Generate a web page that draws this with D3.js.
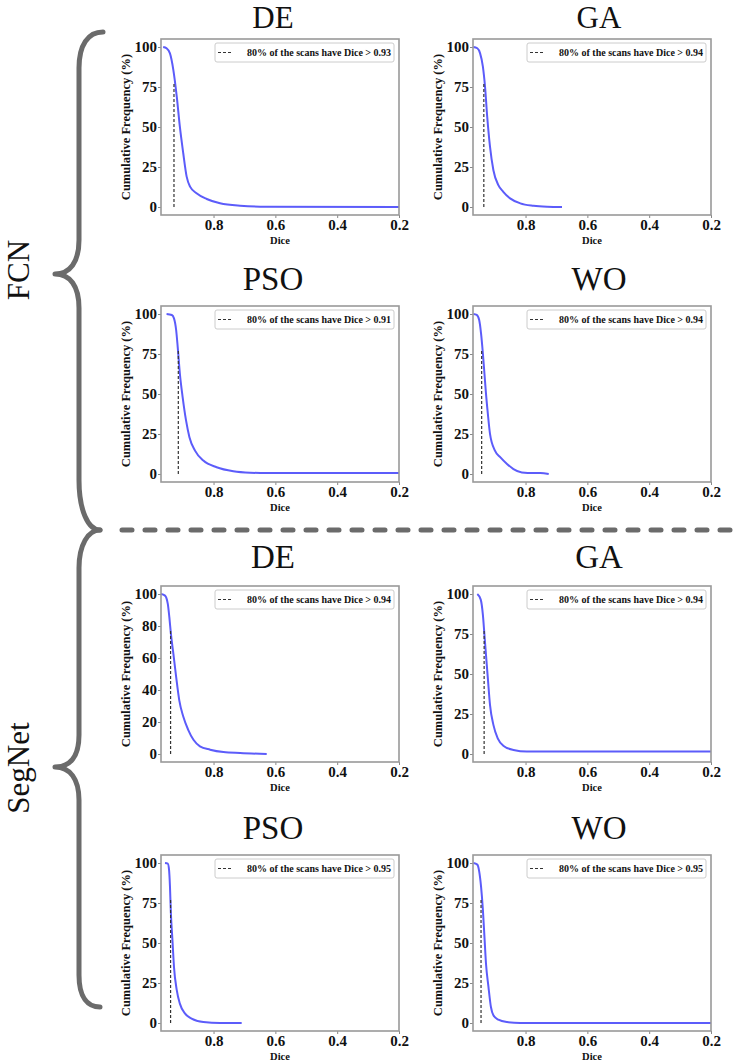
<!DOCTYPE html>
<html>
<head>
<meta charset="utf-8">
<script src="https://cdn.jsdelivr.net/npm/d3@7"></script>
<style>
  body { margin: 0; background: #fff; }
</style>
</head>
<body>
<div id="chart"></div>
<script>
// ---- data ----
const groups = ["FCN", "SegNet"];
const titles = ["DE", "GA", "PSO", "WO", "DE", "GA", "PSO", "WO"];
const xTickVals = [0.8, 0.6, 0.4, 0.2];
const yTicks25 = [0, 25, 50, 75, 100];
const yTicks20 = [0, 20, 40, 60, 80, 100];
const cutLabels = ["0.93", "0.94", "0.91", "0.94", "0.94", "0.94", "0.95", "0.95"];
const cutDice = [0.928, 0.935, 0.914, 0.942, 0.939, 0.934, 0.939, 0.944];
const cutFreq = 78;

const fcnDeDice = [0.963, 0.952, 0.941, 0.930, 0.919, 0.909, 0.898, 0.887, 0.876, 0.855, 0.822, 0.779, 0.714, 0.628, 0.2];
const fcnDeFreq = [100, 99.2, 96, 85.6, 69, 50.2, 33.6, 19, 12.7, 8.6, 5, 2.3, 0.8, 0.2, 0];

const fcnGaDice = [0.969, 0.956, 0.947, 0.938, 0.931, 0.924, 0.915, 0.904, 0.888, 0.872, 0.850, 0.817, 0.774, 0.730, 0.682];
const fcnGaFreq = [100, 99.2, 96, 87.7, 75, 56.4, 37.7, 23, 13.7, 9.5, 5.4, 2.3, 0.8, 0.2, 0];

const fcnPsoDice = [0.952, 0.935, 0.928, 0.921, 0.916, 0.909, 0.900, 0.889, 0.878, 0.860, 0.833, 0.790, 0.736, 0.682, 0.628, 0.2];
const fcnPsoFreq = [100, 99.4, 97.3, 90, 79.5, 62.8, 48.1, 33.5, 23, 14.6, 8.4, 4.2, 1.7, 0.8, 0.6, 0.6];

const fcnWoDice = [0.969, 0.958, 0.950, 0.944, 0.938, 0.933, 0.928, 0.922, 0.915, 0.899, 0.882, 0.860, 0.839, 0.812, 0.774, 0.752, 0.725];
const fcnWoFreq = [100, 99.4, 96.2, 87.9, 75.3, 62.8, 50.2, 37.7, 25.1, 14.6, 10.5, 6.3, 3.1, 1.0, 0.6, 0.6, 0];

const segDeDice = [0.970, 0.957, 0.948, 0.943, 0.938, 0.930, 0.921, 0.911, 0.898, 0.882, 0.865, 0.844, 0.811, 0.768, 0.714, 0.628];
const segDeFreq = [100, 99, 93.8, 85.5, 75.2, 62.7, 48.2, 33.7, 23.4, 15.1, 8.9, 4.8, 2.7, 1.2, 0.6, 0];

const segGaDice = [0.956, 0.945, 0.938, 0.933, 0.928, 0.922, 0.915, 0.904, 0.890, 0.872, 0.839, 0.796, 0.742, 0.2];
const segGaFreq = [100, 96.5, 87, 74.5, 62, 47.4, 30.7, 18.2, 9.8, 5.2, 2.5, 1.5, 1.5, 1.5];

const segPsoDice = [0.957, 0.948, 0.944, 0.941, 0.938, 0.933, 0.928, 0.919, 0.909, 0.892, 0.871, 0.833, 0.779, 0.709];
const segPsoFreq = [100, 99.6, 95.8, 85.4, 68.6, 51.9, 35.1, 20.5, 12.1, 5.9, 2.7, 0.6, 0, 0];

const segWoDice = [0.969, 0.956, 0.950, 0.944, 0.938, 0.933, 0.928, 0.920, 0.912, 0.904, 0.888, 0.860, 0.817, 0.2];
const segWoFreq = [100, 99, 94.8, 85.4, 70.7, 54, 37.2, 22.6, 10, 4.8, 2.1, 0.6, 0, 0];

const diceSeries = [fcnDeDice, fcnGaDice, fcnPsoDice, fcnWoDice, segDeDice, segGaDice, segPsoDice, segWoDice];
const freqSeries = [fcnDeFreq, fcnGaFreq, fcnPsoFreq, fcnWoFreq, segDeFreq, segGaFreq, segPsoFreq, segWoFreq];

// ---- layout ----
const W = 740, H = 1064;
const colX = [161, 473];
const rowY = [39, 306, 586, 855];
const plotW = 238, plotH = 176;
const titleX = [273, 599];
const titleBase = [28, 290, 568, 839];
const serif = "'Liberation Serif', 'Times New Roman', serif";
const grey = "#6b6b6b";

const svg = d3.select("#chart").append("svg")
  .attr("width", W)
  .attr("height", H);

diceSeries.forEach((dice, i) => {
  const col = i % 2, row = Math.floor(i / 2);
  const freq = freqSeries[i];

  const x = d3.scaleLinear().domain([0.97, 0.2]).range([0, plotW]);
  const y = d3.scaleLinear().domain([-5, 105]).range([plotH, 0]);

  const g = svg.append("g")
    .attr("transform", `translate(${colX[col]},${rowY[row]})`);

  // axes
  const xAxis = g.append("g")
    .attr("transform", `translate(0,${plotH})`)
    .call(d3.axisBottom(x).tickValues(xTickVals).tickSize(3).tickPadding(1).tickFormat(d3.format(".1f")));
  const yAxis = g.append("g")
    .call(d3.axisLeft(y).tickValues(i === 4 ? yTicks20 : yTicks25).tickSize(3).tickPadding(1));

  [xAxis, yAxis].forEach(a => {
    a.select(".domain").remove();
    a.selectAll(".tick line").attr("stroke", "#888").attr("stroke-width", 1);
    a.selectAll(".tick text")
      .attr("fill", "#111")
      .attr("font-family", serif)
      .attr("font-weight", 700)
      .attr("font-size", 15);
  });

  // curve
  const line = d3.line()
    .x(d => x(d[0]))
    .y(d => y(d[1]))
    .curve(d3.curveMonotoneX);

  g.append("path")
    .datum(d3.zip(dice, freq))
    .attr("d", line)
    .attr("fill", "none")
    .attr("stroke", "#5c5cfa")
    .attr("stroke-width", 2);

  // 80% marker
  g.append("line")
    .attr("x1", x(cutDice[i]))
    .attr("x2", x(cutDice[i]))
    .attr("y1", y(0))
    .attr("y2", y(cutFreq))
    .attr("stroke", "#333")
    .attr("stroke-width", 1.2)
    .attr("stroke-dasharray", "3,2");

  // frame
  g.append("rect")
    .attr("width", plotW)
    .attr("height", plotH)
    .attr("fill", "none")
    .attr("stroke", "#999")
    .attr("stroke-width", 1.6);

  // legend
  const lg = g.append("g").attr("transform", `translate(${plotW - 184},4)`);
  lg.append("rect")
    .attr("width", 179)
    .attr("height", 19)
    .attr("rx", 2)
    .attr("fill", "#fff")
    .attr("stroke", "#ccc");
  lg.append("line")
    .attr("x1", 3).attr("x2", 17)
    .attr("y1", 9.5).attr("y2", 9.5)
    .attr("stroke", "#333")
    .attr("stroke-width", 1.2)
    .attr("stroke-dasharray", "3,2");
  lg.append("text")
    .attr("x", 32)
    .attr("y", 13)
    .attr("font-family", serif)
    .attr("font-weight", 700)
    .attr("font-size", 10)
    .attr("fill", "#111")
    .text(`80% of the scans have Dice > ${cutLabels[i]}`);

  // axis titles
  g.append("text")
    .attr("x", plotW / 2)
    .attr("y", plotH + 29)
    .attr("text-anchor", "middle")
    .attr("font-family", serif)
    .attr("font-weight", 700)
    .attr("font-size", 10.5)
    .attr("fill", "#111")
    .text("Dice");

  g.append("text")
    .attr("transform", `translate(-31,${plotH / 2}) rotate(-90)`)
    .attr("text-anchor", "middle")
    .attr("font-family", serif)
    .attr("font-weight", 700)
    .attr("font-size", 12.5)
    .attr("fill", "#111")
    .text("Cumulative Frequency (%)");

  // panel title
  svg.append("text")
    .attr("x", titleX[col])
    .attr("y", titleBase[row])
    .attr("text-anchor", "middle")
    .attr("font-family", serif)
    .attr("font-size", row === 0 ? 31 : 33)
    .attr("fill", "#111")
    .text(titles[i]);
});

// separator between the two networks
svg.append("line")
  .attr("x1", 122).attr("x2", 742)
  .attr("y1", 530).attr("y2", 530)
  .attr("stroke", grey)
  .attr("stroke-width", 5)
  .attr("stroke-linecap", "round")
  .attr("stroke-dasharray", "10,13");

// curly braces
const braces = [
  "M103,32 C88,32 79,45 79,68 L79,240 C79,262 70,274 55,274 C70,274 79,286 79,308 L79,480 C79,510 88,530 100,530",
  "M100,530 C88,530 79,545 79,568 L79,735 C79,757 70,767 55,767 C70,767 79,779 79,800 L79,975 C79,998 88,1007 100,1007"
];
svg.selectAll(".brace")
  .data(braces)
  .join("path")
  .attr("class", "brace")
  .attr("d", d => d)
  .attr("fill", "none")
  .attr("stroke", grey)
  .attr("stroke-width", 5)
  .attr("stroke-linecap", "round")
  .attr("stroke-linejoin", "round");

// group labels
const groupY = [270, 768];
groups.forEach((name, k) => {
  svg.append("text")
    .attr("transform", `translate(29,${groupY[k]}) rotate(-90)`)
    .attr("text-anchor", "middle")
    .attr("font-family", serif)
    .attr("font-size", 31)
    .attr("fill", "#111")
    .text(name);
});
</script>
</body>
</html>
